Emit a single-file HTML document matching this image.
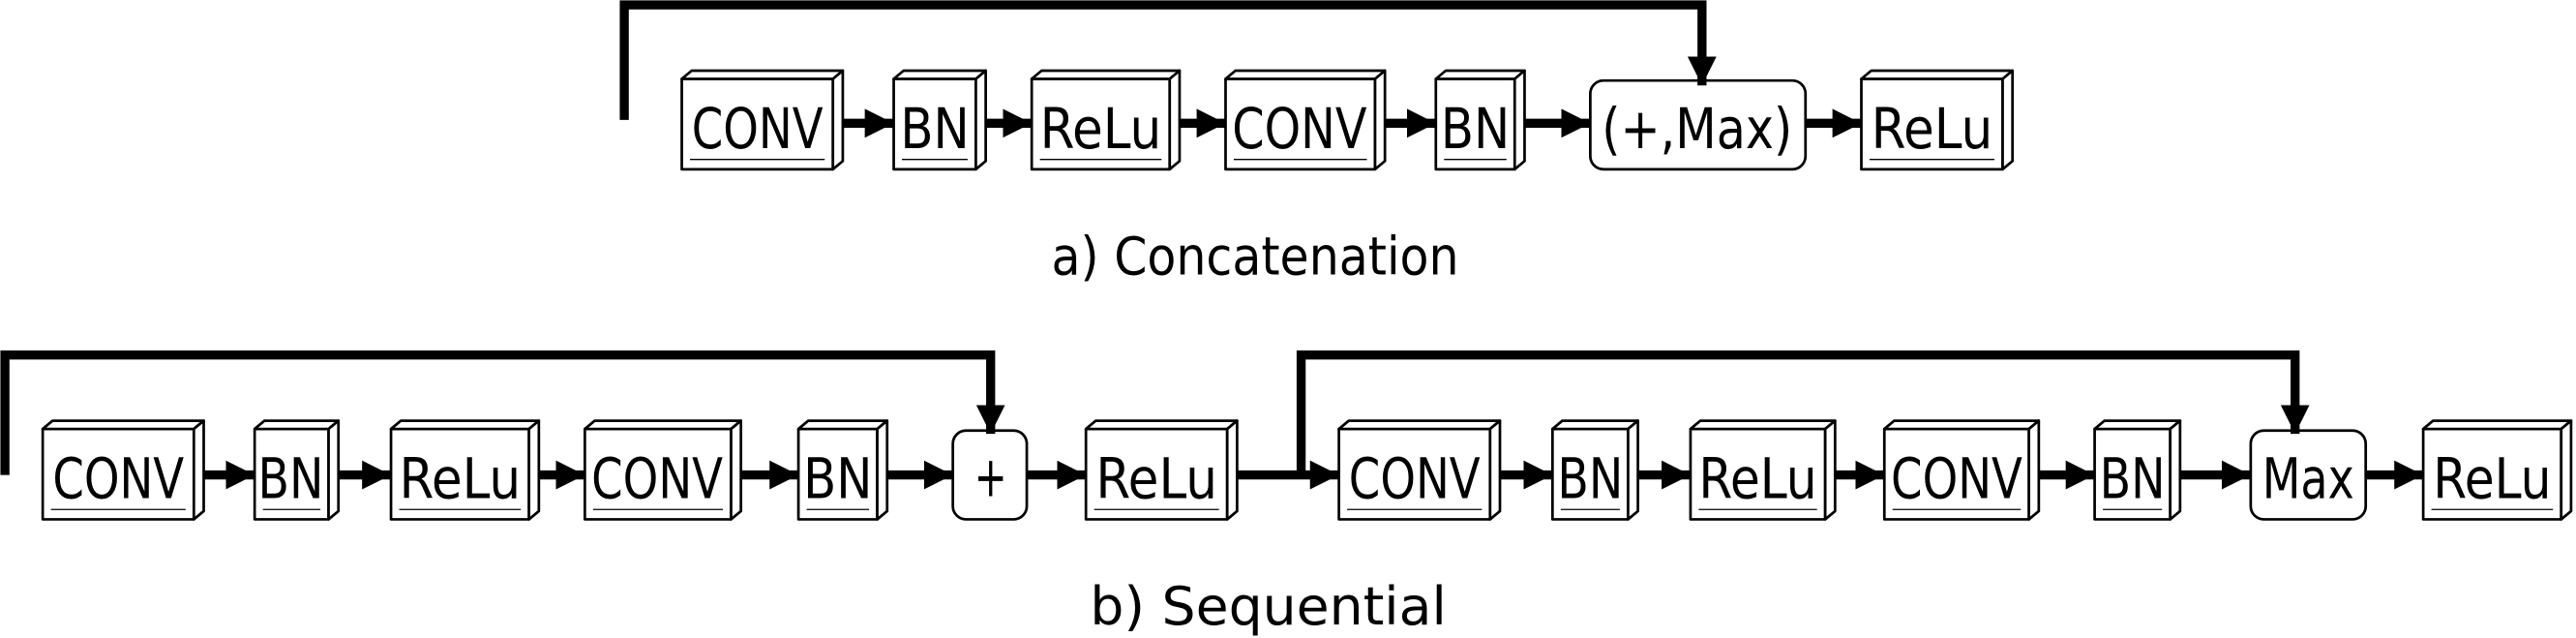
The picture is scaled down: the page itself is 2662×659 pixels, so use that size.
<!DOCTYPE html>
<html><head><meta charset="utf-8"><style>
html,body{margin:0;padding:0;background:#fff;}
svg{display:block;}
text{font-family:"DejaVu Sans Condensed","DejaVu Sans","Liberation Sans",sans-serif;fill:#000;}
</style></head><body>
<svg width="2662" height="659" viewBox="0 0 1568 388.2" preserveAspectRatio="none" xmlns="http://www.w3.org/2000/svg">
<defs>
<marker id="ah" viewBox="0 0 10 10" refX="10" refY="5" markerWidth="3.2" markerHeight="3.6" orient="auto" markerUnits="strokeWidth">
<path d="M0,0 L10,5 L0,10 z" fill="#000"/>
</marker>
</defs>
<g fill="#fff" stroke="#000" stroke-width="1.6" stroke-linejoin="round">
<rect x="415" y="48" width="92" height="55"/><polygon points="415,48 421,43 513,43 507,48"/><polygon points="507,48 513,43 513,98 507,103"/>
<rect x="544" y="48" width="50" height="55"/><polygon points="544,48 550,43 600,43 594,48"/><polygon points="594,48 600,43 600,98 594,103"/>
<rect x="628" y="48" width="84" height="55"/><polygon points="628,48 634,43 718,43 712,48"/><polygon points="712,48 718,43 718,98 712,103"/>
<rect x="746" y="48" width="91" height="55"/><polygon points="746,48 752,43 843,43 837,48"/><polygon points="837,48 843,43 843,98 837,103"/>
<rect x="874" y="48" width="48" height="55"/><polygon points="874,48 880,43 928,43 922,48"/><polygon points="922,48 928,43 928,98 922,103"/>
<rect x="968" y="49" width="131" height="54" rx="8"/>
<rect x="1133" y="48" width="86" height="55"/><polygon points="1133,48 1139,43 1225,43 1219,48"/><polygon points="1219,48 1225,43 1225,98 1219,103"/>
<rect x="26" y="261" width="92" height="55"/><polygon points="26,261 32,256 124,256 118,261"/><polygon points="118,261 124,256 124,311 118,316"/>
<rect x="155" y="261" width="45" height="55"/><polygon points="155,261 161,256 206,256 200,261"/><polygon points="200,261 206,256 206,311 200,316"/>
<rect x="238" y="261" width="84" height="55"/><polygon points="238,261 244,256 328,256 322,261"/><polygon points="322,261 328,256 328,311 322,316"/>
<rect x="356" y="261" width="89" height="55"/><polygon points="356,261 362,256 451,256 445,261"/><polygon points="445,261 451,256 451,311 445,316"/>
<rect x="486" y="261" width="48" height="55"/><polygon points="486,261 492,256 540,256 534,261"/><polygon points="534,261 540,256 540,311 534,316"/>
<rect x="580" y="262" width="45" height="54" rx="8"/>
<rect x="661" y="261" width="86" height="55"/><polygon points="661,261 667,256 753,256 747,261"/><polygon points="747,261 753,256 753,311 747,316"/>
<rect x="815" y="261" width="92" height="55"/><polygon points="815,261 821,256 913,256 907,261"/><polygon points="907,261 913,256 913,311 907,316"/>
<rect x="945" y="261" width="46" height="55"/><polygon points="945,261 951,256 997,256 991,261"/><polygon points="991,261 997,256 997,311 991,316"/>
<rect x="1029" y="261" width="82" height="55"/><polygon points="1029,261 1035,256 1117,256 1111,261"/><polygon points="1111,261 1117,256 1117,311 1111,316"/>
<rect x="1147" y="261" width="88" height="55"/><polygon points="1147,261 1153,256 1241,256 1235,261"/><polygon points="1235,261 1241,256 1241,311 1235,316"/>
<rect x="1275" y="261" width="46" height="55"/><polygon points="1275,261 1281,256 1327,256 1321,261"/><polygon points="1321,261 1327,256 1327,311 1321,316"/>
<rect x="1370" y="262" width="70" height="54" rx="8"/>
<rect x="1475" y="261" width="84" height="55"/><polygon points="1475,261 1481,256 1565,256 1559,261"/><polygon points="1559,261 1565,256 1565,311 1559,316"/>
</g>
<g stroke="#000" stroke-width="0.8">
<line x1="420" y1="97" x2="502" y2="97"/><line x1="549" y1="97" x2="589" y2="97"/><line x1="633" y1="97" x2="707" y2="97"/><line x1="751" y1="97" x2="832" y2="97"/><line x1="879" y1="97" x2="917" y2="97"/><line x1="1138" y1="97" x2="1214" y2="97"/>
<line x1="31" y1="310" x2="113" y2="310"/><line x1="160" y1="310" x2="195" y2="310"/><line x1="243" y1="310" x2="317" y2="310"/><line x1="361" y1="310" x2="440" y2="310"/><line x1="491" y1="310" x2="529" y2="310"/><line x1="666" y1="310" x2="742" y2="310"/><line x1="820" y1="310" x2="902" y2="310"/><line x1="950" y1="310" x2="986" y2="310"/><line x1="1034" y1="310" x2="1106" y2="310"/><line x1="1152" y1="310" x2="1230" y2="310"/><line x1="1280" y1="310" x2="1316" y2="310"/><line x1="1480" y1="310" x2="1554" y2="310"/>
</g>
<g font-size="34" text-anchor="middle">
<text x="461" y="90" textLength="80" lengthAdjust="spacingAndGlyphs">CONV</text>
<text x="569" y="90" textLength="42" lengthAdjust="spacingAndGlyphs">BN</text>
<text x="670" y="90" textLength="74" lengthAdjust="spacingAndGlyphs">ReLu</text>
<text x="791" y="90" textLength="82" lengthAdjust="spacingAndGlyphs">CONV</text>
<text x="898" y="90" textLength="42" lengthAdjust="spacingAndGlyphs">BN</text>
<text x="1033" y="90" textLength="116" lengthAdjust="spacingAndGlyphs">(+,Max)</text>
<text x="1176" y="90" textLength="74" lengthAdjust="spacingAndGlyphs">ReLu</text>
<text x="72" y="303" textLength="80" lengthAdjust="spacingAndGlyphs">CONV</text>
<text x="177" y="303" textLength="40" lengthAdjust="spacingAndGlyphs">BN</text>
<text x="280" y="303" textLength="74" lengthAdjust="spacingAndGlyphs">ReLu</text>
<text x="400" y="303" textLength="80" lengthAdjust="spacingAndGlyphs">CONV</text>
<text x="510" y="303" textLength="42" lengthAdjust="spacingAndGlyphs">BN</text>
<text x="603" y="302" textLength="20" lengthAdjust="spacingAndGlyphs">+</text>
<text x="704" y="303" textLength="74" lengthAdjust="spacingAndGlyphs">ReLu</text>
<text x="861" y="303" textLength="80" lengthAdjust="spacingAndGlyphs">CONV</text>
<text x="968" y="303" textLength="40" lengthAdjust="spacingAndGlyphs">BN</text>
<text x="1070" y="303" textLength="72" lengthAdjust="spacingAndGlyphs">ReLu</text>
<text x="1191" y="303" textLength="80" lengthAdjust="spacingAndGlyphs">CONV</text>
<text x="1298" y="303" textLength="40" lengthAdjust="spacingAndGlyphs">BN</text>
<text x="1405" y="303" textLength="56" lengthAdjust="spacingAndGlyphs">Max</text>
<text x="1517" y="303" textLength="72" lengthAdjust="spacingAndGlyphs">ReLu</text>
</g>
<g font-size="32" text-anchor="middle">
<text x="764" y="167" textLength="248" lengthAdjust="spacingAndGlyphs">a) Concatenation</text>
<text x="772" y="380" textLength="217" lengthAdjust="spacingAndGlyphs">b) Sequential</text>
</g>
<g stroke="#000" stroke-width="5.5" fill="none" marker-end="url(#ah)">
<line x1="513" y1="75" x2="544" y2="75"/><line x1="600" y1="75" x2="628" y2="75"/><line x1="718" y1="75" x2="746" y2="75"/><line x1="843" y1="75" x2="874" y2="75"/><line x1="928" y1="75" x2="968" y2="75"/><line x1="1099" y1="75" x2="1133" y2="75"/>
<polyline points="380,73 380,3 1036,3 1036,52" stroke-linejoin="miter"/>
<line x1="124" y1="289" x2="155" y2="289"/><line x1="206" y1="289" x2="238" y2="289"/><line x1="328" y1="289" x2="356" y2="289"/><line x1="451" y1="289" x2="486" y2="289"/><line x1="540" y1="289" x2="580" y2="289"/><line x1="625" y1="289" x2="661" y2="289"/><line x1="753" y1="289" x2="815" y2="289"/><line x1="913" y1="289" x2="945" y2="289"/><line x1="997" y1="289" x2="1029" y2="289"/><line x1="1117" y1="289" x2="1147" y2="289"/><line x1="1241" y1="289" x2="1275" y2="289"/><line x1="1327" y1="289" x2="1370" y2="289"/><line x1="1440" y1="289" x2="1475" y2="289"/>
<polyline points="3,289 3,216 603,216 603,264" stroke-linejoin="miter"/>
<polyline points="792,289 792,216 1397,216 1397,264" stroke-linejoin="miter"/>
</g>
</svg>
</body></html>
